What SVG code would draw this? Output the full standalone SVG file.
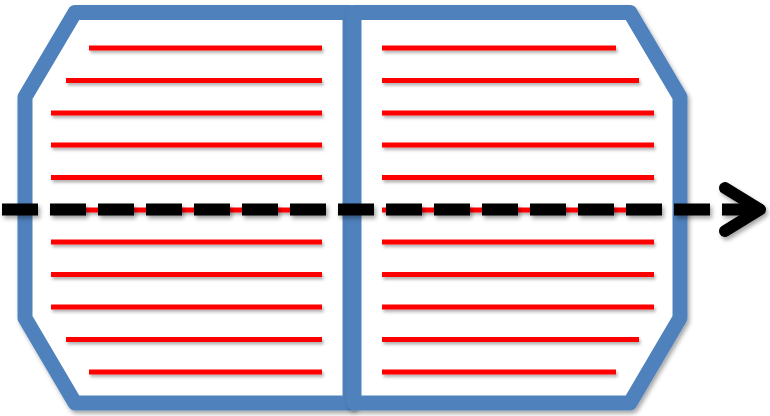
<svg xmlns="http://www.w3.org/2000/svg" width="770" height="416" viewBox="0 0 770 416">
  <defs>
    <filter id="sh" x="-10%" y="-10%" width="130%" height="130%">
      <feDropShadow dx="2" dy="3" stdDeviation="2" flood-color="#000" flood-opacity="0.35"/>
    </filter>
    <filter id="shu" filterUnits="userSpaceOnUse" x="0" y="0" width="770" height="416">
      <feDropShadow dx="2" dy="3" stdDeviation="2" flood-color="#000" flood-opacity="0.35"/>
    </filter>
    <filter id="shl" filterUnits="userSpaceOnUse" x="0" y="0" width="770" height="416">
      <feDropShadow dx="1.5" dy="2.5" stdDeviation="1.5" flood-color="#000" flood-opacity="0.3"/>
    </filter>
    <style>
      .panel { fill: #ffffff; stroke: #4F81BD; stroke-width: 15; stroke-linejoin: round; filter: url(#sh); }
      .red { stroke: #FF0000; stroke-width: 5; fill: none; }
      .reds { filter: url(#shl); }
      .dash { stroke: #000000; stroke-width: 12; fill: none; stroke-dasharray: 36 12; }
      .head { stroke: #000000; stroke-width: 12; fill: none; stroke-linecap: round; stroke-linejoin: round; }
    </style>
  </defs>

  <g id="left-panel">
    <polygon class="panel" points="75,12.5 350,12.5 350,403 75,403 25,318 25,97"/>
    <g class="reds">
      <line class="red" x1="89" y1="48" x2="322" y2="48"/>
      <line class="red" x1="66" y1="80.5" x2="322" y2="80.5"/>
      <line class="red" x1="51" y1="113" x2="322" y2="113"/>
      <line class="red" x1="51" y1="145" x2="322" y2="145"/>
      <line class="red" x1="51" y1="177.5" x2="322" y2="177.5"/>
      <line class="red" x1="51" y1="210" x2="322" y2="210"/>
      <line class="red" x1="51" y1="242" x2="322" y2="242"/>
      <line class="red" x1="51" y1="274.5" x2="322" y2="274.5"/>
      <line class="red" x1="51" y1="307" x2="322" y2="307"/>
      <line class="red" x1="66" y1="339.5" x2="322" y2="339.5"/>
      <line class="red" x1="89" y1="372" x2="322" y2="372"/>
    </g>
  </g>

  <g id="right-panel">
    <polygon class="panel" points="354,12.5 630,12.5 680,97 680,318 630,403 354,403"/>
    <g class="reds">
      <line class="red" x1="382" y1="48" x2="616" y2="48"/>
      <line class="red" x1="382" y1="80.5" x2="639" y2="80.5"/>
      <line class="red" x1="382" y1="113" x2="654" y2="113"/>
      <line class="red" x1="382" y1="145" x2="654" y2="145"/>
      <line class="red" x1="382" y1="177.5" x2="654" y2="177.5"/>
      <line class="red" x1="382" y1="210" x2="654" y2="210"/>
      <line class="red" x1="382" y1="242" x2="654" y2="242"/>
      <line class="red" x1="382" y1="274.5" x2="654" y2="274.5"/>
      <line class="red" x1="382" y1="307" x2="654" y2="307"/>
      <line class="red" x1="382" y1="339.5" x2="639" y2="339.5"/>
      <line class="red" x1="382" y1="372" x2="616" y2="372"/>
    </g>
  </g>

  <g id="connectors" filter="url(#shu)">
    <line class="dash" x1="2" y1="209.5" x2="758" y2="209.5"/>
    <polyline class="head" points="725,188 760,209.5 725,231"/>
  </g>
</svg>
